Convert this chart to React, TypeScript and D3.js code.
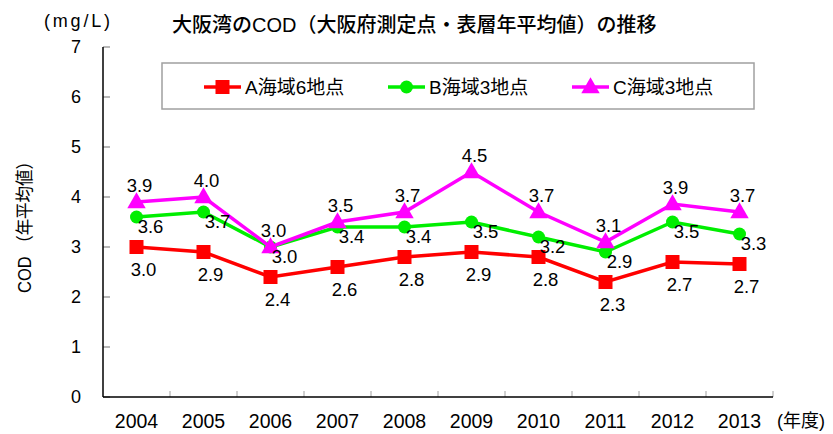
import React, { useEffect, useRef } from 'react';
import * as d3 from 'd3';

const years = ['2004', '2005', '2006', '2007', '2008', '2009', '2010', '2011', '2012', '2013'];
const seriesA = [3.0, 2.9, 2.4, 2.6, 2.8, 2.9, 2.8, 2.3, 2.7, 2.66];
const seriesB = [3.6, 3.7, 3.0, 3.4, 3.4, 3.5, 3.2, 2.9, 3.5, 3.26];
const seriesC = [3.9, 4.0, 3.0, 3.5, 3.7, 4.5, 3.7, 3.1, 3.86, 3.7];
const yTicks = [0, 1, 2, 3, 4, 5, 6, 7];

const FONT = '"Liberation Sans", "Noto Sans CJK JP", sans-serif';

interface Series {
  name: string;
  values: number[];
  color: string;
  marker: 'square' | 'circle' | 'triangle';
  dx: number;
  dy: number;
}

const series: Series[] = [
  { name: 'A海域6地点', values: seriesA, color: '#ff0000', marker: 'square', dx: 7, dy: 22 },
  { name: 'B海域3地点', values: seriesB, color: '#00ee00', marker: 'circle', dx: 14, dy: 9 },
  { name: 'C海域3地点', values: seriesC, color: '#ff00ff', marker: 'triangle', dx: 3, dy: -17 },
];

const W = 833;
const H = 434;

export default function App() {
  const svgRef = useRef<SVGSVGElement>(null);

  useEffect(() => {
    if (!svgRef.current) return;
    const svg = d3.select(svgRef.current);
    svg.selectAll('*').remove();

    const left = 103, right = 773, top = 47, bottom = 397;

    const x = d3.scaleBand().domain(years).range([left, right]);
    const y = d3.scaleLinear().domain([0, 7]).range([bottom, top]);
    const cx = (i: number) => (x(years[i]) || 0) + x.bandwidth() / 2;

    // y ticks (inside, gray)
    svg.selectAll('.ytick')
      .data(yTicks)
      .enter()
      .append('line')
      .attr('x1', left)
      .attr('x2', left + 7)
      .attr('y1', d => y(d))
      .attr('y2', d => y(d))
      .attr('stroke', '#a0a0a0')
      .attr('stroke-width', 1.5);

    svg.selectAll('.ylabel')
      .data(yTicks)
      .enter()
      .append('text')
      .attr('x', 81)
      .attr('y', d => y(d))
      .attr('dy', '0.36em')
      .attr('text-anchor', 'end')
      .attr('font-family', FONT)
      .attr('font-size', 18)
      .attr('fill', '#000')
      .text(d => d);

    // x ticks at category boundaries
    svg.selectAll('.xtick')
      .data(years)
      .enter()
      .append('line')
      .attr('x1', d => (x(d) || 0) + x.bandwidth())
      .attr('x2', d => (x(d) || 0) + x.bandwidth())
      .attr('y1', bottom)
      .attr('y2', bottom - 6)
      .attr('stroke', '#a0a0a0')
      .attr('stroke-width', 1);

    svg.selectAll('.xlabel')
      .data(years)
      .enter()
      .append('text')
      .attr('x', (d, i) => cx(i))
      .attr('y', 421)
      .attr('dy', '0.36em')
      .attr('text-anchor', 'middle')
      .attr('font-family', FONT)
      .attr('font-size', 19.5)
      .attr('fill', '#000')
      .text(d => d);

    // axes lines
    svg.append('line')
      .attr('x1', left).attr('x2', left)
      .attr('y1', top).attr('y2', bottom)
      .attr('stroke', '#000').attr('stroke-width', 1.5);
    svg.append('line')
      .attr('x1', left).attr('x2', right)
      .attr('y1', bottom).attr('y2', bottom)
      .attr('stroke', '#000').attr('stroke-width', 1.5);

    const line = d3.line<number>()
      .x((d, i) => cx(i))
      .y(d => y(d));

    const drawMarker = (g: any, s: Series, px: number, py: number, size: number) => {
      if (s.marker === 'square') {
        g.append('rect')
          .attr('x', px - size / 2).attr('y', py - size / 2)
          .attr('width', size).attr('height', size)
          .attr('fill', s.color);
      } else if (s.marker === 'circle') {
        g.append('circle')
          .attr('cx', px).attr('cy', py).attr('r', size / 2 - 0.5)
          .attr('fill', s.color);
      } else {
        const sym = d3.symbol().type(d3.symbolTriangle).size(size * size * 0.75);
        g.append('path')
          .attr('d', sym() || '')
          .attr('transform', `translate(${px},${py + 1})`)
          .attr('fill', s.color);
      }
    };

    series.forEach(s => {
      const g = svg.append('g');
      g.append('path')
        .attr('d', line(s.values) || '')
        .attr('fill', 'none')
        .attr('stroke', s.color)
        .attr('stroke-width', 3.5);
      s.values.forEach((v, i) => drawMarker(g, s, cx(i), y(v), 14));
    });

    // data labels
    series.forEach(s => {
      svg.append('g')
        .selectAll('text')
        .data(s.values)
        .enter()
        .append('text')
        .attr('x', (d, i) => cx(i) + s.dx)
        .attr('y', d => y(d) + s.dy)
        .attr('dy', '0.36em')
        .attr('text-anchor', 'middle')
        .attr('font-family', FONT)
        .attr('font-size', 18.5)
        .attr('fill', '#000')
        .text(d => d.toFixed(1));
    });

    // legend
    const lg = svg.append('g');
    lg.append('rect')
      .attr('x', 162).attr('y', 63)
      .attr('width', 592).attr('height', 46)
      .attr('fill', '#fff')
      .attr('stroke', '#a0a0a0')
      .attr('stroke-width', 1.5);
    series.forEach((s, i) => {
      const lx = 204 + i * 184;
      const ly = 87;
      lg.append('line')
        .attr('x1', lx).attr('x2', lx + 37)
        .attr('y1', ly).attr('y2', ly)
        .attr('stroke', s.color).attr('stroke-width', 3.5);
      drawMarker(lg, s, lx + 18.5, ly, 14);
      lg.append('text')
        .attr('x', lx + 41)
        .attr('y', ly)
        .attr('dy', '0.36em')
        .attr('font-family', FONT)
        .attr('font-size', 19)
        .attr('fill', '#000')
        .text(s.name);
    });

    // titles
    svg.append('text')
      .attr('x', 172).attr('y', 25).attr('dy', '0.36em')
      .attr('font-family', FONT)
      .attr('font-size', 20)
      .attr('font-weight', 500)
      .attr('fill', '#000')
      .text('大阪湾のCOD（大阪府測定点・表層年平均値）の推移');

    svg.append('text')
      .attr('x', 44).attr('y', 21).attr('dy', '0.36em')
      .attr('font-family', FONT)
      .attr('font-size', 18)
      .attr('textLength', 66)
      .attr('lengthAdjust', 'spacing')
      .attr('fill', '#000')
      .text('(mg/L)');

    svg.append('text')
      .attr('x', 777).attr('y', 421).attr('dy', '0.36em')
      .attr('font-family', FONT)
      .attr('font-size', 18)
      .attr('fill', '#000')
      .text('(年度)');

    svg.append('text')
      .attr('transform', 'translate(25,223) rotate(-90)')
      .attr('dy', '0.36em')
      .attr('text-anchor', 'middle')
      .attr('font-family', FONT)
      .attr('font-size', 18)
      .attr('textLength', 140)
      .attr('lengthAdjust', 'spacingAndGlyphs')
      .attr('fill', '#000')
      .text('COD （年平均値）');
  }, []);

  return (
    <svg
      ref={svgRef}
      width={W}
      height={H}
      style={{ position: 'absolute', left: 0, top: 0, background: '#fff' }}
    />
  );
}
